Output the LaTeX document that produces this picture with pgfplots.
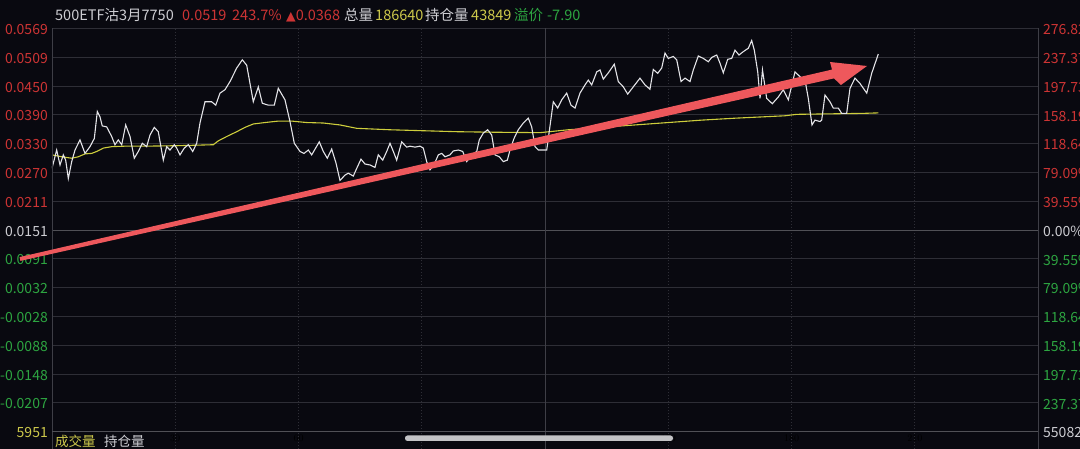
\documentclass[border=0pt]{standalone}
\usepackage{pgfplots}
\pgfplotsset{compat=1.18}
\usepackage{fontspec}
\setmainfont{Noto Sans CJK SC}
\newfontfamily\symfont{DejaVu Sans}
\definecolor{bg}{RGB}{9,9,16}
\definecolor{gridc}{RGB}{46,46,54}
\definecolor{zeroc}{RGB}{80,80,86}
\definecolor{borderc}{RGB}{62,62,70}
\definecolor{redt}{RGB}{205,52,52}
\definecolor{greent}{RGB}{45,165,65}
\definecolor{yellowt}{RGB}{205,200,75}
\definecolor{whitet}{RGB}{205,205,210}
\definecolor{pricec}{RGB}{228,228,232}
\definecolor{avgc}{RGB}{205,205,60}
\definecolor{arrowc}{RGB}{238,88,92}
\definecolor{barc}{RGB}{195,195,198}

\newcommand{\ytks}{-0.026697,-0.020726,-0.014755,-0.008784,-0.002813,0.003158,0.009129,0.0151,0.021071,0.027042,0.033013,0.038984,0.044955,0.050926,0.056897}

\begin{document}
\begin{tikzpicture}[x=1pt,y=1pt]
\clip (0,0) rectangle (1080,449);
\fill[bg] (0,0) rectangle (1080,449);

\begin{axis}[
  at={(52pt,17.3pt)}, anchor=south west,
  width=986pt, height=403.2pt, scale only axis,
  xmin=0, xmax=240,
  ymin=-0.026697, ymax=0.056897,
  scaled ticks=false,
  axis line style={draw=none},
  major tick length=0pt,
  xtick={30,60,90,150,180,210},
  xticklabel={},
  ytick=\ytks,
  yticklabels={\textcolor{yellowt}{5951},\textcolor{greent}{-0.0207},\textcolor{greent}{-0.0148},\textcolor{greent}{-0.0088},\textcolor{greent}{-0.0028},\textcolor{greent}{0.0032},\textcolor{greent}{0.0091},\textcolor{whitet}{0.0151},\textcolor{redt}{0.0211},\textcolor{redt}{0.0270},\textcolor{redt}{0.0330},\textcolor{redt}{0.0390},\textcolor{redt}{0.0450},\textcolor{redt}{0.0509},\textcolor{redt}{0.0569}},
  yticklabel style={anchor=east, inner sep=0pt, xshift=-4pt, yshift=-1pt, font=\fontsize{14}{16}\selectfont},
  xmajorgrids, ymajorgrids,
  y grid style={gridc, line width=0.8pt},
  x grid style={gridc, line width=0.8pt, dash pattern=on 1pt off 2pt},
]
\draw[zeroc, line width=0.9pt] (axis cs:0,0.0151) -- (axis cs:240,0.0151);
\draw[borderc, line width=0.8pt] (axis cs:120,-0.026697) -- (axis cs:120,0.056897);
\addplot[avgc, line width=1.1pt] coordinates {
(0,0.0307) (2.36,0.0303) (4.80,0.0300) (6.40,0.0303) (8.03,0.0309) (9.66,0.0310) (10.88,0.0314) (12.49,0.0321) (14.53,0.0324) (17.77,0.0325) (22.64,0.0325) (30.74,0.0326) (39.26,0.0328) (40.48,0.0336) (42.52,0.0345) (44.96,0.0355) (46.98,0.0364) (49.00,0.0371) (51.85,0.0374) (55.08,0.0377) (58.35,0.0377) (62.00,0.0374) (66.04,0.0373) (70.10,0.0369) (74.17,0.0362) (82.27,0.0359) (90.38,0.0357) (98.51,0.0355) (106.61,0.0354) (118.78,0.0353) (125.67,0.0359) (133.80,0.0364) (141.91,0.0369) (150.01,0.0374) (158.14,0.0379) (166.25,0.0383) (178.42,0.0388) (181.27,0.0391) (189.37,0.0392) (197.48,0.0393) (201.13,0.0394)
};
\addplot[pricec, line width=1.1pt] coordinates {
(0,0.0279) (1.14,0.0317) (1.95,0.0286) (2.75,0.0307) (3.33,0.0296) (3.97,0.0258) (4.80,0.0293) (5.60,0.0317) (6.82,0.0338) (8.03,0.0310) (9.25,0.0324) (10.30,0.0341) (11.03,0.0397) (11.68,0.0386) (12.24,0.0367) (13.31,0.0365) (14.53,0.0345) (15.33,0.0328) (16.14,0.0338) (16.97,0.0328) (17.94,0.0369) (18.99,0.0345) (20.03,0.0300) (21.01,0.0314) (21.98,0.0331) (23.05,0.0324) (23.85,0.0348) (24.90,0.0364) (25.87,0.0355) (27.09,0.0296) (27.92,0.0324) (28.72,0.0317) (29.77,0.0328) (30.35,0.0321) (31.16,0.0307) (32.20,0.0321) (33.18,0.0328) (34.25,0.0314) (35.22,0.0331) (36.02,0.0373) (37.24,0.0417) (38.87,0.0417) (39.85,0.0410) (40.89,0.0435) (42.11,0.0442) (43.33,0.0459) (44.96,0.0487) (46.32,0.0504) (47.39,0.0493) (49.00,0.0417) (50.22,0.0448) (51.19,0.0414) (52.65,0.0410) (54.11,0.0410) (55.08,0.0445) (56.71,0.0421) (57.93,0.0376) (58.98,0.0331) (60.37,0.0314) (61.34,0.0310) (62.39,0.0317) (63.21,0.0307) (65.06,0.0334) (66.04,0.0314) (67.01,0.0300) (68.08,0.0319) (69.13,0.0290) (70.10,0.0254) (71.32,0.0265) (72.12,0.0269) (73.34,0.0263) (74.17,0.0279) (75.21,0.0298) (76.19,0.0288) (77.40,0.0286) (78.62,0.0281) (79.42,0.0307) (80.50,0.0296) (81.47,0.0314) (82.27,0.0331) (83.08,0.0314) (83.90,0.0296) (85.12,0.0334) (86.34,0.0323) (87.14,0.0325) (88.36,0.0323) (89.57,0.0325) (90.38,0.0321) (91.20,0.0293) (92.01,0.0276) (92.98,0.0286) (94.03,0.0307) (94.86,0.0310) (95.66,0.0303) (96.88,0.0307) (97.68,0.0315) (98.90,0.0317) (99.97,0.0314) (100.94,0.0293) (102.16,0.0307) (103.38,0.0314) (104.01,0.0338) (104.98,0.0352) (106.05,0.0359) (107.03,0.0348) (107.83,0.0307) (108.88,0.0303) (109.85,0.0293) (110.83,0.0296) (111.48,0.0317) (112.46,0.0341) (113.50,0.0359) (114.72,0.0373) (115.94,0.0383) (116.76,0.0365) (117.57,0.0324) (118.37,0.0317) (120.42,0.0317) (122.02,0.0417) (123.09,0.0404) (124.07,0.0421) (125.28,0.0435) (126.33,0.0410) (127.30,0.0404) (128.52,0.0435) (129.74,0.0452) (130.54,0.0462) (131.37,0.0452) (132.59,0.0479) (133.39,0.0483) (134.19,0.0464) (135.41,0.0477) (136.87,0.0495) (137.84,0.0459) (139.06,0.0448) (140.13,0.0433) (141.49,0.0448) (143.12,0.0466) (144.34,0.0452) (145.55,0.0443) (146.36,0.0484) (147.43,0.0476) (148.41,0.0487) (149.21,0.0518) (150.01,0.0507) (151.23,0.0511) (152.06,0.0504) (153.11,0.0459) (154.08,0.0466) (155.30,0.0459) (156.10,0.0483) (157.32,0.0512) (158.53,0.0507) (159.75,0.0500) (160.58,0.0509) (161.80,0.0514) (162.60,0.0497) (163.40,0.0477) (164.47,0.0505) (165.45,0.0507) (166.25,0.0524) (167.22,0.0514) (168.27,0.0521) (169.49,0.0528) (170.31,0.0544) (170.95,0.0524) (171.78,0.0479) (172.34,0.0424) (172.94,0.0483) (173.96,0.0424) (175.33,0.0413) (176.79,0.0427) (178.00,0.0442) (179.22,0.0421) (180.85,0.0479) (182.07,0.0469) (183.29,0.0462) (184.09,0.0424) (184.99,0.0369) (185.72,0.0379) (186.94,0.0376) (187.35,0.0379) (188.15,0.0431) (189.37,0.0417) (190.17,0.0404) (191.39,0.0404) (192.22,0.0393) (193.43,0.0393) (194.24,0.0445) (195.46,0.0466) (196.67,0.0455) (198.31,0.0435) (199.52,0.0476) (201.13,0.0516)
};
\end{axis}

\begin{axis}[
  at={(52pt,17.3pt)}, anchor=south west,
  width=986pt, height=403.2pt, scale only axis,
  xmin=0, xmax=240,
  ymin=-0.026697, ymax=0.056897,
  scaled ticks=false,
  hide x axis,
  axis line style={draw=none},
  major tick length=0pt,
  yticklabel pos=right,
  ytick=\ytks,
  yticklabels={\textcolor{whitet}{55082},\textcolor{greent}{237.37\%},\textcolor{greent}{197.73\%},\textcolor{greent}{158.19\%},\textcolor{greent}{118.64\%},\textcolor{greent}{79.09\%},\textcolor{greent}{39.55\%},\textcolor{whitet}{0.00\%},\textcolor{redt}{39.55\%},\textcolor{redt}{79.09\%},\textcolor{redt}{118.64\%},\textcolor{redt}{158.19\%},\textcolor{redt}{197.73\%},\textcolor{redt}{237.37\%},\textcolor{redt}{276.82\%}},
  yticklabel style={anchor=west, inner sep=0pt, xshift=5pt, yshift=-1pt, font=\fontsize{14}{16}\selectfont},
]
\addplot[draw=none] coordinates {(0,0.0151)};
\end{axis}

% borders and lower panel
\draw[borderc, line width=0.9pt] (52,0) -- (52,420.5);
\draw[borderc, line width=0.9pt] (1038,0) -- (1038,420.5);
\draw[zeroc, line width=1.6pt] (52,17.3) -- (1038,17.3);
\foreach \xx in {175.25,298.5,421.75,668.25,791.5,914.75}
  \draw[gridc, line width=0.8pt, dash pattern=on 1pt off 2pt] (\xx,0) -- (\xx,16.5);
\draw[borderc, line width=0.8pt] (545,0) -- (545,16.5);
\fill[barc, rounded corners=2.5pt] (405,8) rectangle (673,13.5);
\node[anchor=base west, inner sep=0pt, font=\fontsize{13.5}{15}\selectfont, text=yellowt] at (55,2.5) {成交量};
\node[anchor=base west, inner sep=0pt, font=\fontsize{13.5}{15}\selectfont, text=whitet] at (104,2.5) {持仓量};

% header
\begin{scope}[every node/.style={anchor=base west, inner sep=0pt, font=\fontsize{14.5}{16}\selectfont}]
\node[text=whitet] at (55,428) {500ETF沽3月7750};
\node[text=redt] at (182,428) {0.0519};
\node[text=redt] at (232,428) {243.7\%};
\node[text=redt] at (286,428) {{\symfont\fontsize{12.5}{14}\selectfont ▲}0.0368};
\node[text=whitet] at (344,428) {总量};
\node[text=yellowt] at (375,428) {186640};
\node[text=whitet] at (425,428) {持仓量};
\node[text=yellowt] at (471,428) {43849};
\node[text=greent] at (514,428) {溢价};
\node[text=greent] at (547,428) {-7.90};
\end{scope}

% annotation arrow
\fill[arrowc] (19.6,191.9) -- (832,379.4) -- (830,387) -- (867,383) -- (841,364) -- (834,370.6) -- (20.4,188.1) -- cycle;
\end{tikzpicture}
\end{document}
